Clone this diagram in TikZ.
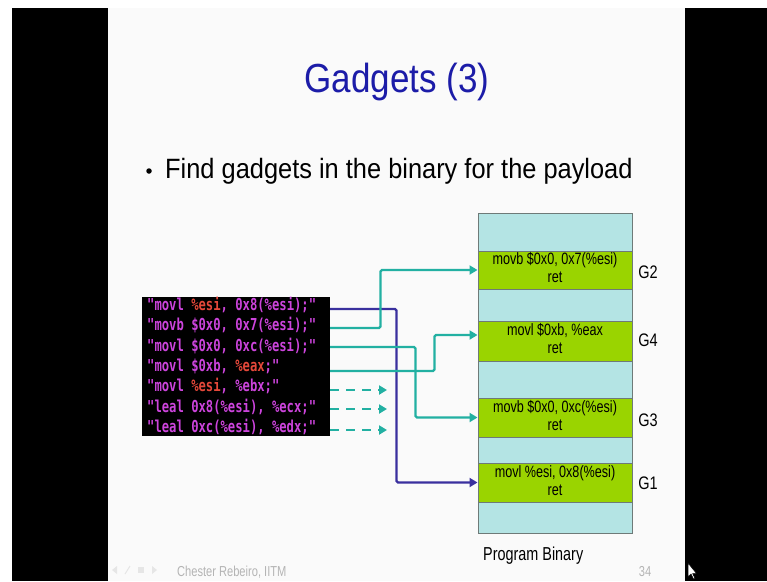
\documentclass[tikz,border=0pt]{standalone}
\usepackage{fontspec}
\setmainfont{Liberation Sans}
\newfontfamily\codefont{DejaVu Sans Mono}
\usetikzlibrary{arrows.meta,calc}

\definecolor{slidebg}{HTML}{FAFAFA}
\definecolor{titleblue}{HTML}{1C1CA8}
\definecolor{codepink}{HTML}{CC44DC}
\definecolor{codered}{HTML}{E4483A}
\definecolor{cellcyan}{HTML}{B4E4E4}
\definecolor{cellgreen}{HTML}{9AD400}
\definecolor{cellborder}{HTML}{6E7A78}
\definecolor{linkteal}{HTML}{22B0A2}
\definecolor{linkblue}{HTML}{3A309E}
\definecolor{footgray}{HTML}{B4B4B4}
\definecolor{navgray}{HTML}{E6E6E6}

% vertical stretch of a piece of text
\newcommand\vstretch[2]{\scalebox{1}[#1]{#2}}
% register highlighted in red inside a code line
\newcommand\rg[1]{\textcolor{codered}{#1}}

\begin{document}
\begin{tikzpicture}[x=1pt,y=-1pt,
  cell/.style={draw=cellborder, line width=1pt, minimum width=154pt, inner sep=0pt, anchor=center},
  blank/.style={cell, fill=cellcyan},
  gadget/.style={cell, fill=cellgreen, font=\fontsize{12.6}{13.8}\selectfont},
  glabel/.style={font=\fontsize{14.5}{16}\selectfont, anchor=center, inner sep=0pt},
  codeline/.style={anchor=west, inner sep=0pt, text=codepink, font=\codefont\bfseries\fontsize{12.2}{12}\selectfont},
  link/.style={line width=2.3pt, rounded corners=1.5pt, -{Triangle[length=8pt,width=9pt]}},
  dlink/.style={link, linkteal, dash pattern=on 9pt off 7pt},
]
\useasboundingbox (0,0) rectangle (767,581);
% frame: white strip, black side bars, slide area
\fill[white] (0,0) rectangle (767,581);
\fill[black] (12,8) rectangle (108,581);
\fill[black] (685,8) rectangle (767,581);
\fill[slidebg] (108,8) rectangle (685,581);

% title and bullet
\node[text=titleblue, font=\fontsize{35}{40}\selectfont, anchor=base, inner sep=0pt] (title) at (397,92) {\vstretch{1.16}{Gadgets (3)}};
\node[circle, fill=black, inner sep=0pt, minimum size=5.5pt] (dot) at (149,171) {};
\node[anchor=base west, inner sep=0pt, font=\fontsize{25.4}{30}\selectfont] (bullet) at (165,178) {\vstretch{1.1}{Find gadgets in the binary for the payload}};

% payload code
\node[fill=black, minimum width=188pt, minimum height=139pt, inner sep=0pt] (code) at (236,366.5) {};
\node[codeline] (l1) at (147,305) {\vstretch{1.35}{"movl \rg{\%esi}, 0x8(\%esi);"}};
\node[codeline] (l2) at (147,325) {\vstretch{1.35}{"movb \$0x0, 0x7(\%esi);"}};
\node[codeline] (l3) at (147,346) {\vstretch{1.35}{"movl \$0x0, 0xc(\%esi);"}};
\node[codeline] (l4) at (147,366) {\vstretch{1.35}{"movl \$0xb, \rg{\%eax};"}};
\node[codeline] (l5) at (147,386) {\vstretch{1.35}{"movl \rg{\%esi}, \%ebx;"}};
\node[codeline] (l6) at (147,407) {\vstretch{1.35}{"leal 0x8(\%esi), \%ecx;"}};
\node[codeline] (l7) at (147,427) {\vstretch{1.35}{"leal 0xc(\%esi), \%edx;"}};

% program binary column
\node[blank, minimum height=38pt] (b0) at (555,232) {};
\node[gadget, minimum height=38pt] (g2) at (555,270) {\vstretch{1.3}{\begin{tabular}{@{}c@{}}movb \$0x0, 0x7(\%esi)\\ret\end{tabular}}};
\node[blank, minimum height=32pt] (b1) at (555,305) {};
\node[gadget, minimum height=40pt] (g4) at (555,341) {\vstretch{1.3}{\begin{tabular}{@{}c@{}}movl \$0xb, \%eax\\ret\end{tabular}}};
\node[blank, minimum height=37pt] (b2) at (555,379.5) {};
\node[gadget, minimum height=39pt] (g3) at (555,417.5) {\vstretch{1.3}{\begin{tabular}{@{}c@{}}movb \$0x0, 0xc(\%esi)\\ret\end{tabular}}};
\node[blank, minimum height=26pt] (b3) at (555,450) {};
\node[gadget, minimum height=39pt] (g1) at (555,482.5) {\vstretch{1.3}{\begin{tabular}{@{}c@{}}movl \%esi, 0x8(\%esi)\\ret\end{tabular}}};
\node[blank, minimum height=31pt] (b4) at (555,517.5) {};

\node[glabel] (lg2) at (648,272) {\vstretch{1.25}{G2}};
\node[glabel] (lg4) at (648,340) {\vstretch{1.25}{G4}};
\node[glabel] (lg3) at (648,420) {\vstretch{1.25}{G3}};
\node[glabel] (lg1) at (648,483) {\vstretch{1.25}{G1}};

\node[anchor=base west, inner sep=0pt, font=\fontsize{14.4}{16}\selectfont] (pb) at (483,560) {\vstretch{1.3}{Program Binary}};

% connectors from the payload lines to the gadgets
\coordinate (s1) at (330,309);
\coordinate (s2) at (330,328);
\coordinate (s3) at (330,347);
\coordinate (s4) at (330,371);
\coordinate (s5) at (330,390);
\coordinate (s6) at (330,409);
\coordinate (s7) at (330,430);
\coordinate (d5) at (387,390);
\coordinate (d6) at (387,409);
\coordinate (d7) at (387,430);

\draw[link, linkblue] (s1) -| ($(g1.west)+(-81,0)$) -- (g1.west);
\draw[link, linkteal] (s2) -| ($(g2.west)+(-97,0)$) -- (g2.west);
\draw[link, linkteal] (s3) -| ($(g3.west)+(-62,0)$) -- (g3.west);
\draw[link, linkteal] (s4) -| ($(g4.west)+(-43,-6)$) -- ($(g4.west)+(0,-6)$);
\draw[dlink] (s5) -- (d5);
\draw[dlink] (s6) -- (d6);
\draw[dlink] (s7) -- (d7);

% footer
\node[text=footgray, font=\fontsize{11.1}{13}\selectfont, anchor=base west, inner sep=0pt] (foot) at (177,576) {\vstretch{1.3}{Chester Rebeiro, IITM}};
\node[text=footgray, font=\fontsize{11.1}{13}\selectfont, anchor=base, inner sep=0pt] (page) at (645,576) {\vstretch{1.3}{34}};

% faint navigation symbols
\fill[navgray] (112,570) -- (117,566) -- (117,574) -- cycle;
\draw[navgray, line width=1pt] (125,574) -- (130,566);
\fill[navgray] (138,567) rectangle (144,573);
\fill[navgray] (157,570) -- (152,566) -- (152,574) -- cycle;

% mouse pointer
\filldraw[fill=white, draw=black, line width=0.5pt] (688,563) -- (688,577) -- (691,574) -- (693.5,579) -- (695,578.3) -- (692.6,573.5) -- (696.5,573.5) -- cycle;
\end{tikzpicture}
\end{document}
